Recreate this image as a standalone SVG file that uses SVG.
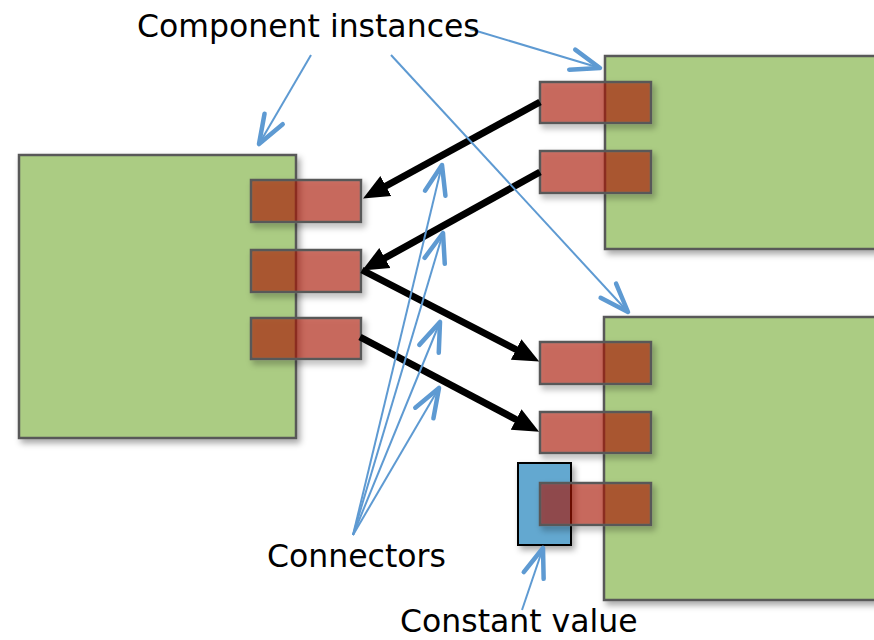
<svg xmlns="http://www.w3.org/2000/svg" width="874" height="640" viewBox="0 0 874 640">
<style>
.comp{fill:#ABCC83;stroke:#595959;stroke-width:2.5}
.port{fill:#AC1400;fill-opacity:0.6;stroke:#595959;stroke-width:2.5}
.const{fill:#64A8D0;stroke:#000;stroke-width:2}
.conn{stroke:#000;stroke-width:7;fill:none;marker-end:url(#solid)}
.note{stroke:#5E9AD2;stroke-width:2;fill:none;marker-end:url(#open)}
.lbl{font-family:"DejaVu Sans","Verdana",sans-serif;font-size:31.5px;fill:#000}
</style>
<defs>
<filter id="sh" x="-10%" y="-10%" width="130%" height="130%">
<feDropShadow dx="3" dy="4" stdDeviation="3" flood-color="#000" flood-opacity="0.35"/>
</filter>
<filter id="shp" x="-10%" y="-20%" width="130%" height="150%">
<feGaussianBlur in="SourceAlpha" stdDeviation="3" result="b"/>
<feOffset in="b" dx="3" dy="4" result="o"/>
<feFlood flood-color="#000" flood-opacity="0.35" result="f"/>
<feComposite in="f" in2="o" operator="in" result="s"/>
<feMorphology in="SourceAlpha" operator="dilate" radius="0" result="m"/>
<feComposite in="s" in2="SourceAlpha" operator="out" result="so"/>
<feMerge><feMergeNode in="so"/><feMergeNode in="SourceGraphic"/></feMerge>
</filter>
<marker id="solid" markerUnits="userSpaceOnUse" markerWidth="28" markerHeight="26" viewBox="0 -13 28 26" refX="1" refY="0" orient="auto">
<path d="M0,-11.5 L26,0 L0,11.5 z" fill="#000"/>
</marker>
<marker id="open" markerUnits="userSpaceOnUse" markerWidth="40" markerHeight="30" viewBox="-34 -15 40 30" refX="0" refY="0" orient="auto">
<path d="M-29,-10.5 L0,0 L-29,10.5" fill="none" stroke="#5E9AD2" stroke-width="4.5" stroke-linecap="round" stroke-linejoin="round"/>
</marker>
</defs>

<g id="compA" filter="url(#sh)">
<rect class="comp" x="19" y="155" width="277" height="283"/>
</g>
<g id="compB" filter="url(#sh)">
<rect class="comp" x="605" y="56" width="280" height="193"/>
</g>
<g id="compC" filter="url(#sh)">
<rect class="comp" x="604" y="317" width="280" height="283"/>
</g>
<g id="constant" filter="url(#sh)">
<rect class="const" x="518" y="463" width="53" height="82"/>
</g>

<g id="portsA">
<rect id="a1" class="port" filter="url(#shp)" x="251" y="180" width="110" height="42"/>
<rect id="a2" class="port" filter="url(#shp)" x="251" y="250" width="110" height="42"/>
<rect id="a3" class="port" filter="url(#shp)" x="251" y="318" width="110" height="41"/>
</g>
<g id="portsB">
<rect id="b1" class="port" filter="url(#shp)" x="540" y="82" width="111" height="41"/>
<rect id="b2" class="port" filter="url(#shp)" x="540" y="151" width="111" height="42"/>
</g>
<g id="portsC">
<rect id="c1" class="port" filter="url(#shp)" x="540" y="342" width="111" height="42"/>
<rect id="c2" class="port" filter="url(#shp)" x="540" y="412" width="111" height="41"/>
<rect id="c3" class="port" filter="url(#shp)" x="540" y="483" width="111" height="42"/>
</g>

<g id="connectors">
<line class="conn" x1="540" y1="102" x2="385" y2="186.5"/>
<line class="conn" x1="540" y1="172" x2="384" y2="258.5"/>
<line class="conn" x1="362" y1="270" x2="517" y2="350"/>
<line class="conn" x1="360" y1="337" x2="517" y2="420"/>
</g>

<g id="annotations">
<line class="note" x1="311" y1="55" x2="259" y2="144"/>
<line class="note" x1="470" y1="29" x2="600" y2="68"/>
<line class="note" x1="391" y1="55" x2="628" y2="312"/>
<line class="note" x1="353" y1="535" x2="442" y2="165"/>
<line class="note" x1="353" y1="535" x2="443" y2="233"/>
<line class="note" x1="353" y1="535" x2="440" y2="322"/>
<line class="note" x1="353" y1="535" x2="439" y2="388"/>
<line class="note" x1="522" y1="610" x2="543" y2="548"/>
</g>

<g id="labels">
<text class="lbl" x="137" y="37">Component instances</text>
<text class="lbl" x="267" y="567">Connectors</text>
<text class="lbl" x="400" y="632">Constant value</text>
</g>
</svg>
